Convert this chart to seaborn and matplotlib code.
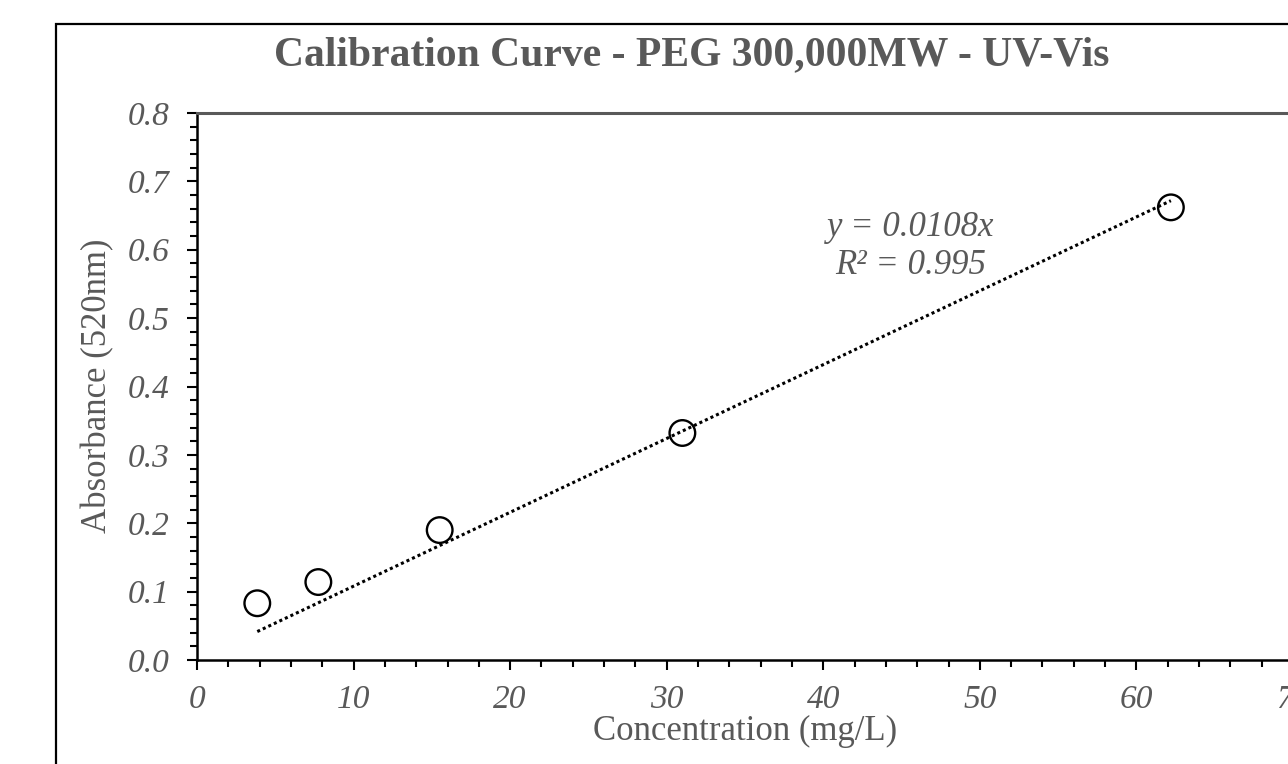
import numpy as np
import pandas as pd
import matplotlib
matplotlib.use("Agg")
import matplotlib.pyplot as plt
from matplotlib.patches import Rectangle
from matplotlib.ticker import MultipleLocator, FormatStrFormatter
import seaborn as sns

# ---- data ----
concentration = [3.85, 7.75, 15.5, 31.0, 62.2]        # mg/L
absorbance = [0.083, 0.114, 0.190, 0.332, 0.662]      # A (520 nm)
slope = 0.0108
r_squared = 0.995
title = "Calibration Curve - PEG 300,000MW - UV-Vis"
x_label = "Concentration (mg/L)"
y_label = "Absorbance (520nm)"

sns.set_theme(style="ticks")
plt.rcParams["font.family"] = ["Liberation Serif", "DejaVu Serif"]

GRAY = "#595959"
W, H = 1288, 764
fig = plt.figure(figsize=(W / 100, H / 100), dpi=100)
fig.patch.set_facecolor("white")

# axes: left 197px, bottom 660px, top 113px, right beyond edge (x=70 at ~1293px)
ax = fig.add_axes([197 / W, 1 - 660 / H, (1293 - 197) / W, (660 - 113) / H])

df = pd.DataFrame({"conc": concentration, "abs": absorbance})
fit_x = [min(concentration), max(concentration)]
fit = pd.DataFrame({"conc": fit_x, "abs": [slope * v for v in fit_x]})

sns.lineplot(data=fit, x="conc", y="abs", ax=ax, color="black",
             linestyle=(0, (1, 1.0)), linewidth=2.2, zorder=2)
sns.scatterplot(data=df, x="conc", y="abs", ax=ax, marker="o", s=340,
                facecolor="none", edgecolor="black", linewidth=1.7, zorder=3)

ax.set_xlim(0, 70)
ax.set_ylim(0, 0.8)
ax.xaxis.set_major_locator(MultipleLocator(10))
ax.xaxis.set_minor_locator(MultipleLocator(2))
ax.yaxis.set_major_locator(MultipleLocator(0.1))
ax.yaxis.set_minor_locator(MultipleLocator(0.02))
ax.yaxis.set_major_formatter(FormatStrFormatter("%.1f"))

ax.tick_params(axis="both", which="major", length=7, width=1.5, color="black",
               labelsize=24, labelcolor=GRAY)
ax.tick_params(axis="x", which="major", pad=11)
ax.tick_params(axis="y", which="major", pad=13)
ax.tick_params(axis="both", which="minor", length=5, width=1.5, color="black")
for lab in ax.get_xticklabels() + ax.get_yticklabels():
    lab.set_fontstyle("italic")

for side in ["left", "bottom"]:
    ax.spines[side].set_color("black")
    ax.spines[side].set_linewidth(1.8)
ax.spines["top"].set_color(GRAY)
ax.spines["top"].set_linewidth(2.2)
ax.spines["right"].set_visible(False)

ax.set_xlabel(x_label, fontsize=25, color=GRAY)
ax.set_ylabel(y_label, fontsize=25, color=GRAY)
ax.xaxis.set_label_coords(745 / W, 1 - 715 / H, transform=fig.transFigure)
ax.yaxis.set_label_coords(114 / W, 1 - 386 / H, transform=fig.transFigure)

fig.text(691.5 / W, 1 - 65 / H, title, ha="center", va="baseline",
         fontsize=30, fontweight="bold", color=GRAY)

fig.text(911 / W, 1 - 236 / H, f"y = {slope}x", ha="center", va="baseline",
         fontsize=25, fontstyle="italic", color=GRAY)
fig.text(911 / W, 1 - 274 / H, f"R² = {r_squared}", ha="center", va="baseline",
         fontsize=25, fontstyle="italic", color=GRAY)

# outer chart-area border (runs off the right and bottom edges)
fig.patches.append(Rectangle((56 / W, -0.2), 1.5, 1 - 24 / H + 0.2,
                             transform=fig.transFigure, fill=False,
                             edgecolor="black", linewidth=1.6, zorder=0))

fig.savefig("out.png", dpi=100, facecolor="white")
